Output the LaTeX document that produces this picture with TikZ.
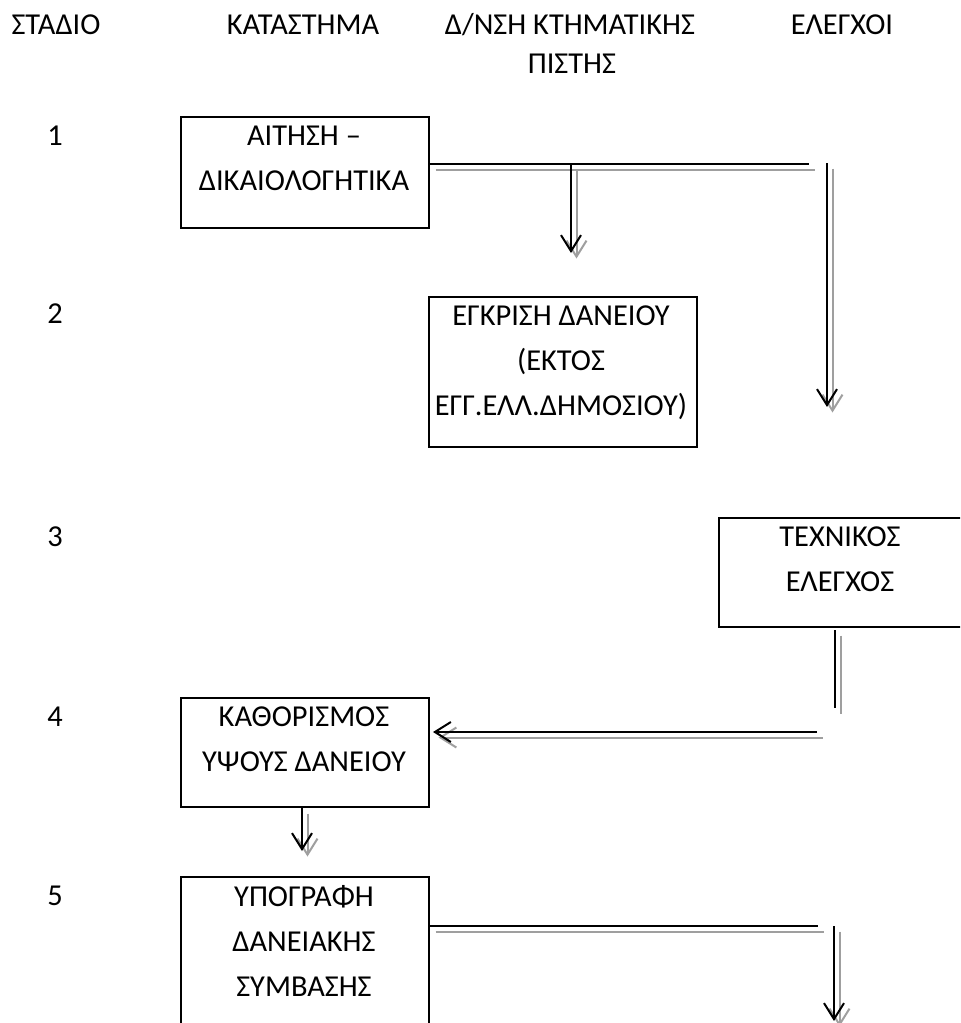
\documentclass[tikz,border=0pt]{standalone}
\usepackage{fontspec}
\setmainfont{Carlito}
\usetikzlibrary{arrows.meta}
\begin{document}
\begin{tikzpicture}[x=0.5pt,y=-0.5pt,
  box/.style={draw=black,line width=1pt,inner sep=0pt,anchor=north west},
  txt/.style={font=\fontsize{15.2}{22.5}\selectfont,align=center,inner sep=0pt,anchor=north},
  lbl/.style={font=\fontsize{15.2}{22.5}\selectfont,inner sep=0pt,anchor=base},
  conn/.style={line width=1pt,line cap=butt},
  arr/.style={conn,-{Straight Barb[length=8pt,width=10pt]}},
]
\useasboundingbox (0,0) rectangle (960,1023);
\clip (0,0) rectangle (960,1023);

% header
\node[lbl] (h1) at (56,34) {ΣΤΑΔΙΟ};
\node[lbl] (h2) at (303,34) {ΚΑΤΑΣΤΗΜΑ};
\node[lbl] (h3) at (570,34) {Δ/ΝΣΗ ΚΤΗΜΑΤΙΚΗΣ};
\node[lbl] (h3b) at (572,73) {ΠΙΣΤΗΣ};
\node[lbl] (h4) at (842,34) {ΕΛΕΓΧΟΙ};

% stage numbers
\node[lbl] (n1) at (55,145) {1};
\node[lbl] (n2) at (55,323) {2};
\node[lbl] (n3) at (55,546) {3};
\node[lbl] (n4) at (55,726) {4};
\node[lbl] (n5) at (55,905) {5};

% boxes
\node[box,minimum width=124pt,minimum height=55.5pt] (b1) at (180,116) {};
\node[box,minimum width=134pt,minimum height=75pt] (b2) at (428,296) {};
\node[box,minimum width=122pt,minimum height=54.5pt] (b3) at (718,517) {};
\node[box,minimum width=124pt,minimum height=54.5pt] (b4) at (180,697) {};
\node[box,minimum width=124pt,minimum height=85pt] (b5) at (180,876) {};

% box texts
\node[txt] (t1) at (304,125.5) {ΑΙΤΗΣΗ –\\ΔΙΚΑΙΟΛΟΓΗΤΙΚΑ};
\node[txt] (t2) at (561,305.5) {ΕΓΚΡΙΣΗ ΔΑΝΕΙΟΥ\\(ΕΚΤΟΣ\\ΕΓΓ.ΕΛΛ.ΔΗΜΟΣΙΟΥ)};
\node[txt] (t3) at (840,526.5) {ΤΕΧΝΙΚΟΣ\\ΕΛΕΓΧΟΣ};
\node[txt] (t4) at (304,706.5) {ΚΑΘΟΡΙΣΜΟΣ\\ΥΨΟΥΣ ΔΑΝΕΙΟΥ};
\node[txt] (t5) at (304,885.5) {ΥΠΟΓΡΑΦΗ\\ΔΑΝΕΙΑΚΗΣ\\ΣΥΜΒΑΣΗΣ};

% connector points
\coordinate (p1) at (809,164);
\coordinate (j1) at (571,164);
\coordinate (a1) at (571,253);
\coordinate (q2) at (827,163);
\coordinate (a2) at (827,407);
\coordinate (s3) at (835,630);
\coordinate (e3) at (835,708);
\coordinate (h4p) at (817,732);
\coordinate (a4) at (433,732);
\coordinate (a5) at (302,851);
\coordinate (h5) at (818,926);
\coordinate (q6) at (834,926);
\coordinate (a6) at (834,1021);

\newcommand\drawconns[1]{%
  \draw[conn,#1] (b1.north east |- p1) -- (p1);
  \draw[arr,#1] (j1) -- (a1);
  \draw[arr,#1] (q2) -- (a2);
  \draw[conn,#1] (s3) -- (e3);
  \draw[arr,#1] (h4p) -- (a4);
  \draw[arr,#1] (b4.south -| a5) -- (a5);
  \draw[conn,#1] (b5.north east |- h5) -- (h5);
  \draw[arr,#1] (q6) -- (a6);
}
\begin{scope}[transform canvas={shift={(2.75pt,-2.75pt)}}]
  \drawconns{draw=gray!75}
\end{scope}
\drawconns{draw=black}
\end{tikzpicture}
\end{document}
